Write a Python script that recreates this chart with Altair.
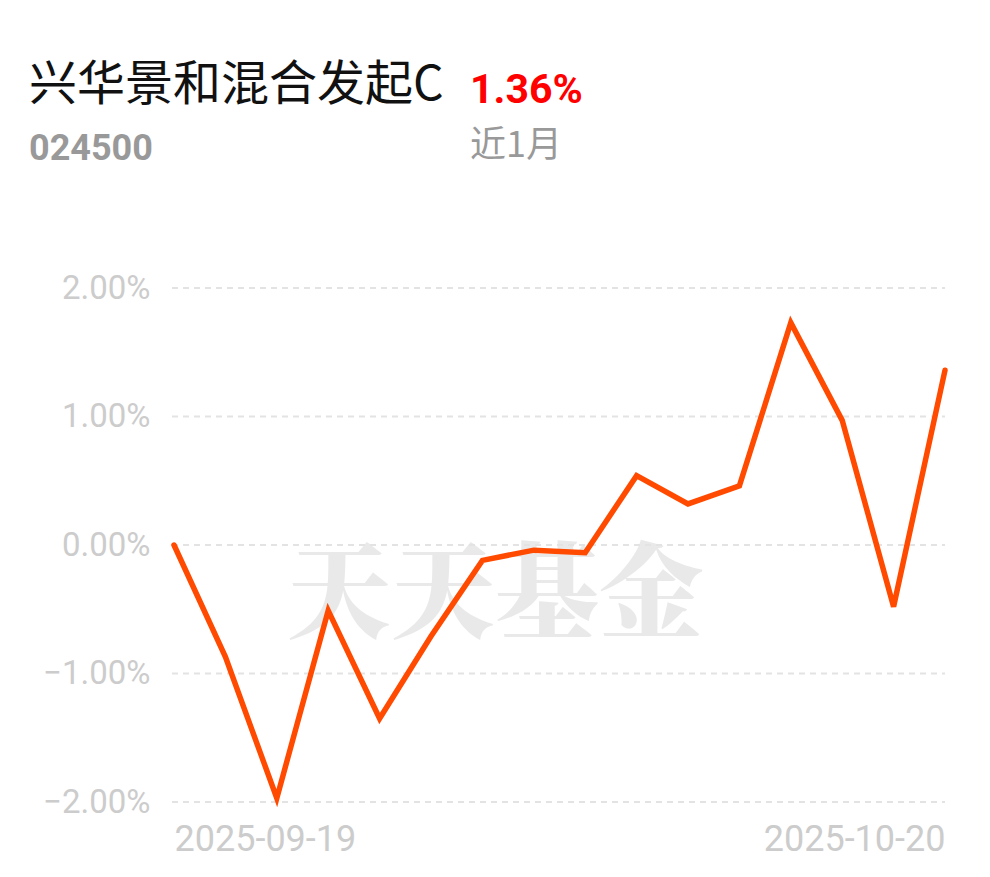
import altair as alt
import pandas as pd

dates = ["2025-09-19", "2025-09-22", "2025-09-23", "2025-09-24", "2025-09-25",
         "2025-09-26", "2025-09-29", "2025-09-30", "2025-10-09", "2025-10-10",
         "2025-10-13", "2025-10-14", "2025-10-15", "2025-10-16", "2025-10-17",
         "2025-10-20"]
returns = [0.00, -0.87, -1.97, -0.51, -1.35, -0.71, -0.12, -0.04, -0.06, 0.54,
           0.32, 0.46, 1.73, 0.97, -0.48, 1.36]
y_ticks = [-2, -1, 0, 1, 2]

fund_name = "兴华景和混合发起C"
fund_code = "024500"
period_return = "1.36%"
period_label = "近1月"
watermark = "天天基金"

W, H = 771, 514

df = pd.DataFrame({"date": dates, "ret": returns})
grid_df = pd.DataFrame({"v": y_ticks})
one = pd.DataFrame({"k": [0]})

x_enc = alt.X(
    "date:O",
    scale=alt.Scale(type="point", padding=0),
    axis=alt.Axis(
        values=[dates[0], dates[-1]],
        labelAngle=0,
        title=None,
        domain=False,
        ticks=False,
        grid=False,
        labelFont="Roboto",
        labelFontSize=36,
        labelColor="#cccccc",
        labelPadding=20,
        labelLimit=0,
        labelOverlap=False,
        labelAlign={"condition": {"test": f"datum.value == '{dates[0]}'", "value": "left"}, "value": "right"},
    ),
)
y_scale = alt.Scale(domain=[-2, 2], nice=False, zero=False)

watermark_layer = alt.Chart(one).mark_text(
    text=watermark, font="Noto Serif CJK SC, Noto Sans CJK SC", fontWeight=900, fontSize=104,
    color="#e9e9e9", align="center", baseline="middle",
).encode(x=alt.value(321), y=alt.value(311))

grid_layer = alt.Chart(grid_df).mark_rule(
    color="#e3e3e3", strokeWidth=2, strokeDash=[6, 5],
).encode(
    y=alt.Y("v:Q", scale=y_scale, axis=alt.Axis(
        values=y_ticks, title=None, domain=False, ticks=False, grid=False,
        labelExpr="format(datum.value, '.2f') + '%'",
        labelFont="Roboto", labelFontSize=33, labelColor="#cccccc", labelPadding=24,
    )),
    x=alt.value(-2), x2=alt.value(W),
)

line_layer = alt.Chart(df).mark_line(
    color="#ff4a00", strokeWidth=5.5, strokeJoin="miter", strokeCap="round",
).encode(
    x=x_enc,
    y=alt.Y("ret:Q", scale=y_scale),
)

def txt(s, x, y, size, color, font, weight="normal"):
    return alt.Chart(one).mark_text(
        text=s, font=font, fontSize=size, fontWeight=weight, color=color,
        align="left", baseline="alphabetic",
    ).encode(x=alt.value(x), y=alt.value(y))

t1 = txt(fund_name, -145, -188, 48, "#111111", "Noto Sans CJK SC")
t2 = txt(period_return, 296, -185, 41, "#ff0000", "Roboto", "bold")
t3 = txt(fund_code, -145, -128, 36, "#999999", "Roboto", "bold")
t4 = txt(period_label, 296, -131, 36, "#999999", "Noto Sans CJK SC")

chart = alt.layer(watermark_layer, grid_layer, line_layer, t1, t2, t3, t4).properties(
    width=W, height=H,
    background="white",
    autosize=alt.AutoSizeParams(type="none"),
    padding={"left": 166, "top": 280, "right": 37, "bottom": 70},
).configure_view(strokeWidth=0, stroke="transparent").configure_axis(grid=False)

chart.save("out.html", embed_options={"renderer": "svg", "actions": False})
